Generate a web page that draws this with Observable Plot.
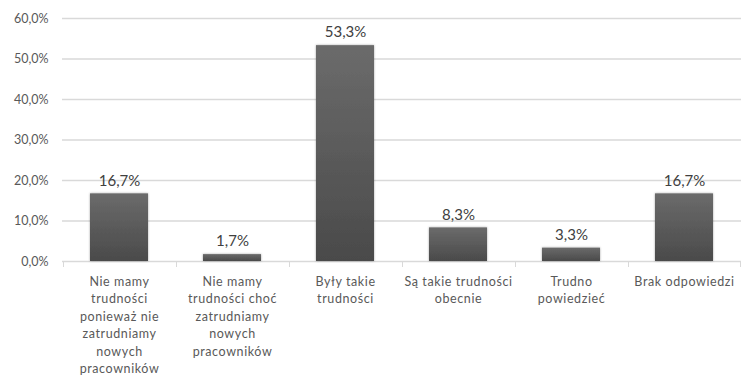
<!DOCTYPE html>
<html>
<head>
<meta charset="utf-8">
<script src="https://cdn.jsdelivr.net/npm/d3@7"></script>
<script src="https://cdn.jsdelivr.net/npm/@observablehq/plot@0.6"></script>
<style>
  html, body { margin: 0; padding: 0; background: #fff; }
  svg { display: block; }
</style>
</head>
<body>
<div id="chart"></div>
<script>
const categories = [
  "Nie mamy\ntrudności\nponieważ nie\nzatrudniamy\nnowych\npracowników",
  "Nie mamy\ntrudności choć\nzatrudniamy\nnowych\npracowników",
  "Były takie\ntrudności",
  "Są takie trudności\nobecnie",
  "Trudno\npowiedzieć",
  "Brak odpowiedzi"
];
const values = [0.167, 0.017, 0.533, 0.083, 0.033, 0.167];
const yTicks = [0, 0.1, 0.2, 0.3, 0.4, 0.5, 0.6];

const data = categories.map((c, i) => ({category: c, value: values[i]}));
const fmt = d => (d * 100).toFixed(1).replace(".", ",") + "%";
const font = "Lato, 'Open Sans', sans-serif";

const defsMark = () => {
  const g = d3.create("svg:defs");
  const lg = g.append("linearGradient").attr("id", "barGrad").attr("x1", 0).attr("y1", 0).attr("x2", 0).attr("y2", 1);
  lg.append("stop").attr("offset", "0%").attr("stop-color", "#6b6b6b");
  lg.append("stop").attr("offset", "100%").attr("stop-color", "#4a4a4a");
  const f = g.append("filter").attr("id", "shadow").attr("x", "-20%").attr("y", "-20%").attr("width", "140%").attr("height", "140%");
  f.append("feDropShadow").attr("dx", 0).attr("dy", 0).attr("stdDeviation", 1.2).attr("flood-color", "#000").attr("flood-opacity", 0.35);
  return g.node();
};

const boundaryTicks = (index, scales, values, dims) => {
  const x = scales.x;
  const step = x.step(), bw = x.bandwidth();
  const y0 = scales.y(0);
  const pos = categories.map(c => x(c) + bw / 2 - step / 2);
  pos.push(x(categories[categories.length - 1]) + bw / 2 + step / 2);
  const g = d3.create("svg:g").attr("stroke", "#d9d9d9").attr("stroke-width", 1);
  pos.forEach(p => {
    const px = Math.min(Math.round(p), dims.width - 1) + 0.5;
    g.append("line").attr("x1", px).attr("x2", px).attr("y1", y0).attr("y2", y0 + 6);
  });
  return g.node();
};

const chart = Plot.plot({
  width: 741,
  height: 378,
  marginTop: 18,
  marginBottom: 117,
  marginLeft: 62,
  marginRight: 0,
  style: {fontFamily: font, color: "#595959", background: "#fff"},
  x: {domain: categories, paddingInner: 0.49, paddingOuter: 0.245, label: null},
  y: {domain: [0, 0.6], ticks: yTicks, tickFormat: fmt, label: null},
  marks: [
    defsMark,
    Plot.ruleY(yTicks, {stroke: "#d9d9d9", strokeWidth: 1.3}),
    boundaryTicks,
    Plot.barY(data, {x: "category", y: "value", fill: "url(#barGrad)"}),
    Plot.text(data, {x: "category", y: "value", text: d => fmt(d.value), dy: -13, fontSize: 15, fill: "#404040"}),
    Plot.axisY({ticks: yTicks, tickFormat: fmt, tickSize: 0, tickPadding: 14, fontSize: 12.5, fill: "#595959", label: null}),
    Plot.axisX({tickSize: 0, tickPadding: 12, fontSize: 12.5, lineHeight: 1.4, fill: "#595959", lineAnchor: "top", label: null})
  ]
});
d3.select(chart).selectAll("[aria-label='bar'] rect").attr("filter", "url(#shadow)");
d3.select(chart).selectAll("[aria-label='x-axis tick label']").attr("letter-spacing", "0.6px");
document.getElementById("chart").appendChild(chart);
</script>
</body>
</html>
